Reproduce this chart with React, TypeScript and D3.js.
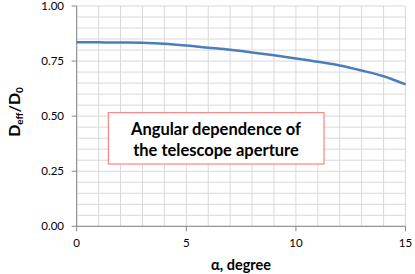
import React from "react";
import * as d3 from "d3";

const alphaDeg = [0, 1, 2, 3, 4, 5, 6, 7, 8, 9, 10, 11, 12, 13, 14, 15];
const ratio = [0.835, 0.835, 0.834, 0.833, 0.829, 0.821, 0.811, 0.801, 0.789, 0.776, 0.762, 0.747, 0.73, 0.707, 0.681, 0.644];
const xTicks = [0, 5, 10, 15];
const yTicks = [0, 0.25, 0.5, 0.75, 1.0];
const xGrid = d3.range(0, 16, 1);
const yGrid = d3.range(0, 1.0001, 0.05);
const titleLines = ["Angular dependence of", "the telescope aperture"];

const W = 415, H = 274;
const FONT = "Lato, 'Open Sans', sans-serif";

export default function App() {
  const x = d3.scaleLinear().domain([0, 15]).range([76.7, 405.5]);
  const y = d3.scaleLinear().domain([0, 1]).range([226.3, 6]);
  const line = d3
    .line<number>()
    .x((_, i) => x(alphaDeg[i]))
    .y((d) => y(d))
    .curve(d3.curveCatmullRom.alpha(0.5));
  const axisColor = "#868686";
  return (
    <svg width={W} height={H} style={{ position: "absolute", left: 0, top: 0 }} fontFamily={FONT}>
      <rect width={W} height={H} fill="#fff" />
      {xGrid.map((v) => (
        <line key={"xg" + v} x1={x(v)} x2={x(v)} y1={y(0)} y2={y(1)} stroke="#d9d9d9" strokeWidth={1} />
      ))}
      {yGrid.map((v) => (
        <line key={"yg" + v} x1={x(0)} x2={x(15)} y1={y(v)} y2={y(v)} stroke="#d9d9d9" strokeWidth={1} />
      ))}
      <line x1={x(0)} x2={x(0)} y1={y(0)} y2={y(1)} stroke={axisColor} />
      <line x1={x(0)} x2={x(15)} y1={y(0)} y2={y(0)} stroke={axisColor} />
      {yTicks.map((v) => (
        <g key={"yt" + v}>
          <line x1={x(0) - 5} x2={x(0)} y1={y(v)} y2={y(v)} stroke={axisColor} />
          <text x={64} y={y(v)} dy="0.35em" textAnchor="end" fontSize={11.5} fill="#000">
            {d3.format(".2f")(v)}
          </text>
        </g>
      ))}
      {xTicks.map((v) => (
        <g key={"xt" + v}>
          <line x1={x(v)} x2={x(v)} y1={y(0)} y2={y(0) + 5} stroke={axisColor} />
          <text x={x(v)} y={247} textAnchor="middle" fontSize={11.5} fill="#000">
            {v}
          </text>
        </g>
      ))}
      <path d={line(ratio) || ""} fill="none" stroke="#4a7ebb" strokeWidth={2.5} />
      <rect x={108.3} y={112.7} width={215.7} height={51.3} fill="#fff" stroke="#ff6b6b" strokeWidth={1} />
      {titleLines.map((t, i) => (
        <text key={t} x={216} y={135 + i * 20.5} textAnchor="middle" fontSize={16.5} fontWeight="bold" fill="#000">
          {t}
        </text>
      ))}
      <text x={241} y={265} dy="0.35em" textAnchor="middle" fontSize={14.5} fontWeight="bold" fill="#000">
        α, degree
      </text>
      <text transform="translate(20,112) rotate(-90)" textAnchor="middle" fontSize={16} fontWeight="bold" fill="#000">
        D<tspan fontSize={10} dy={3}>eff</tspan>
        <tspan dy={-3}>/D</tspan>
        <tspan fontSize={10} dy={3}>0</tspan>
      </text>
    </svg>
  );
}
